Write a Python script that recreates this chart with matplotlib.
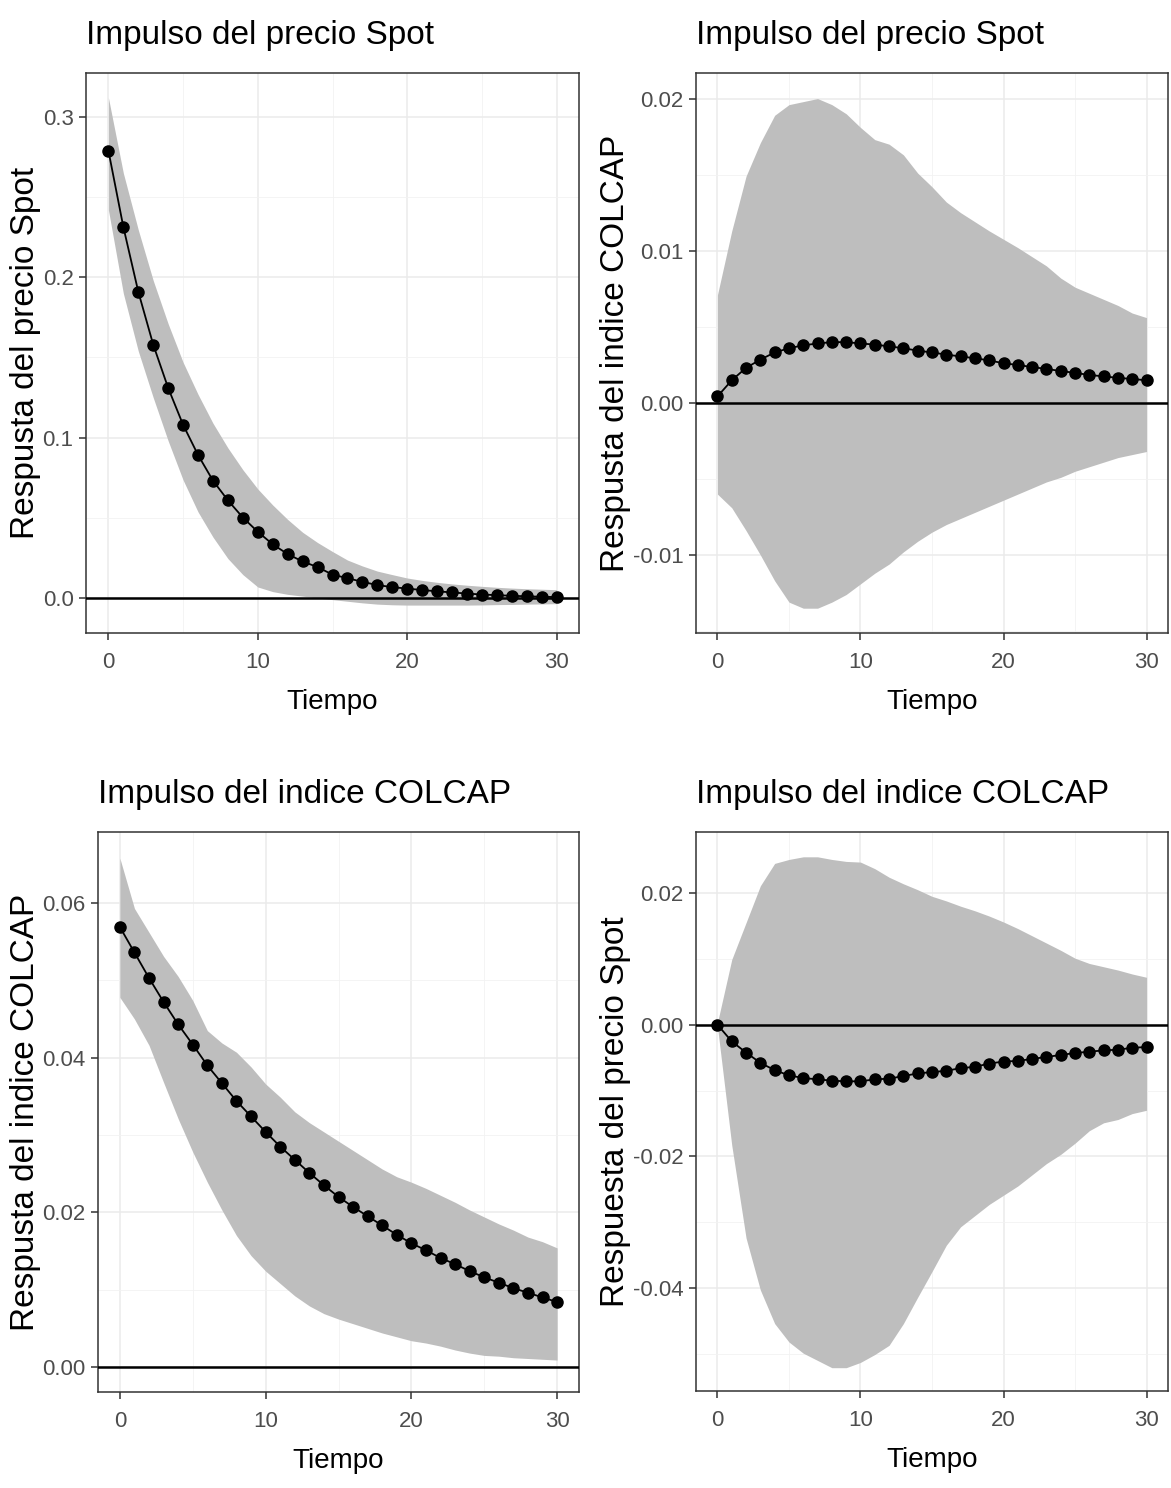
import matplotlib
matplotlib.use("Agg")
import matplotlib.pyplot as plt
from matplotlib.ticker import MultipleLocator

################################DATOS################################
tiempo = list(range(31))

# Impulso del precio Spot -> respuesta del precio Spot
spot_spot = [0.279, 0.2314, 0.191, 0.158, 0.131, 0.108, 0.0892, 0.0732, 0.0609, 0.0502,
             0.0413, 0.0335, 0.0274, 0.0228, 0.0193, 0.0146, 0.0124, 0.0101, 0.0081, 0.0068,
             0.0059, 0.0050, 0.0042, 0.0035, 0.0028, 0.0022, 0.0018, 0.0014, 0.0011, 0.0008, 0.0006]
spot_spot_sup = [0.312, 0.265, 0.2296, 0.198, 0.171, 0.147, 0.127, 0.109, 0.0936, 0.080,
                 0.068, 0.058, 0.049, 0.041, 0.0346, 0.029, 0.0237, 0.020, 0.0168, 0.0146,
                 0.0125, 0.011, 0.0098, 0.0088, 0.008, 0.0073, 0.0067, 0.0062, 0.0058, 0.0055, 0.0052]
spot_spot_inf = [0.242, 0.19, 0.154, 0.125, 0.098, 0.0736, 0.0537, 0.038, 0.0246, 0.0146,
                 0.0069, 0.004, 0.0023, 0.0012, 0.0, -0.001, -0.002, -0.003, -0.0038, -0.0042,
                 -0.0044, -0.0044, -0.0044, -0.0044, -0.0044, -0.0043, -0.0041, -0.004, -0.0038, -0.0037, -0.0035]

# Impulso del precio Spot -> respuesta del indice COLCAP
spot_colcap = [0.00042, 0.00148, 0.0023, 0.00284, 0.00331, 0.00359, 0.00378, 0.0039, 0.00399, 0.00399,
               0.0039, 0.00383, 0.00371, 0.00359, 0.00343, 0.00331, 0.00317, 0.00305, 0.00293, 0.00279,
               0.0026, 0.00249, 0.00235, 0.00223, 0.00209, 0.00197, 0.00183, 0.00174, 0.00164, 0.00157, 0.00148]
spot_colcap_sup = [0.0071, 0.0113, 0.0149, 0.0171, 0.0189, 0.0196, 0.0198, 0.0200, 0.0196, 0.019,
                   0.0181, 0.0173, 0.017, 0.0163, 0.0151, 0.0142, 0.0132, 0.0125, 0.0119, 0.0113,
                   0.01075, 0.0102, 0.0096, 0.009, 0.0082, 0.0076, 0.0072, 0.0068, 0.0064, 0.0059, 0.0056]
spot_colcap_inf = [-0.006, -0.0069, -0.0084, -0.010, -0.0117, -0.0131, -0.0135, -0.0135, -0.0131, -0.0126,
                   -0.0119, -0.0112, -0.0106, -0.0098, -0.0091, -0.0085, -0.008, -0.0076, -0.0072, -0.0068,
                   -0.0064, -0.006, -0.0056, -0.0052, -0.0049, -0.0045, -0.0042, -0.0039, -0.0036, -0.0034, -0.0032]

# Impulso del indice COLCAP -> respuesta del indice COLCAP
colcap_colcap = [0.0569, 0.0536, 0.0503, 0.0472, 0.0443, 0.0417, 0.039, 0.0367, 0.0344, 0.0324,
                 0.0304, 0.0285, 0.0268, 0.0251, 0.0235, 0.022, 0.0207, 0.0195, 0.0183, 0.0171,
                 0.016, 0.0151, 0.0141, 0.0133, 0.0124, 0.0116, 0.0109, 0.0102, 0.0096, 0.009, 0.0084]
colcap_colcap_sup = [0.0658, 0.0593, 0.0562, 0.0531, 0.0505, 0.0474, 0.0435, 0.0419, 0.0407, 0.0388,
                     0.0366, 0.0349, 0.033, 0.0316, 0.0304, 0.0292, 0.028, 0.0268, 0.0256, 0.0246,
                     0.0239, 0.0231, 0.0222, 0.0213, 0.0203, 0.0194, 0.0185, 0.0177, 0.0168, 0.0162, 0.0154]
colcap_colcap_inf = [0.0478, 0.045, 0.0416, 0.0368, 0.0321, 0.0278, 0.0239, 0.0203, 0.017, 0.0144,
                     0.0124, 0.0108, 0.0092, 0.0079, 0.0069, 0.0062, 0.0056, 0.005, 0.0044, 0.0039,
                     0.0034, 0.0031, 0.0027, 0.0022, 0.0018, 0.0015, 0.0014, 0.0012, 0.0011, 0.001, 0.0009]

# Impulso del indice COLCAP -> respuesta del precio Spot
colcap_spot = [0.0, -0.00254, -0.00423, -0.0058, -0.0069, -0.0077, -0.0081, -0.0083, -0.0085, -0.0086,
               -0.0086, -0.0083, -0.0082, -0.0078, -0.0074, -0.0072, -0.007, -0.0066, -0.0064, -0.0059,
               -0.0056, -0.0055, -0.0052, -0.0049, -0.0046, -0.0043, -0.0041, -0.0039, -0.0038, -0.0035, -0.0034]
colcap_spot_sup = [0.0003, 0.0099, 0.0155, 0.0211, 0.0245, 0.0251, 0.0255, 0.0255, 0.0251, 0.0248,
                   0.0247, 0.0237, 0.0224, 0.0214, 0.0205, 0.0195, 0.0188, 0.018, 0.0173, 0.0165,
                   0.0156, 0.0146, 0.0135, 0.0124, 0.0113, 0.0101, 0.0093, 0.0088, 0.0083, 0.0077, 0.0072]
colcap_spot_inf = [-0.0003, -0.0183, -0.0324, -0.0403, -0.0454, -0.0482, -0.0499, -0.051, -0.0521, -0.0521,
                   -0.0513, -0.0501, -0.0487, -0.0454, -0.0414, -0.0375, -0.0335, -0.0307, -0.029, -0.0273,
                   -0.0259, -0.0245, -0.0228, -0.0211, -0.0197, -0.018, -0.0161, -0.0149, -0.0144, -0.0135, -0.013]

plt.rcParams['font.family'] = ['Liberation Sans', 'DejaVu Sans']

W, H = 1171, 1488

################################FUNCION GRAFICA################################
def graficar(caja, x, y, inf, sup, titulo, ylabel, ylim, paso, ylab_px):
    izq, arr, der, aba = caja
    ax = fig.add_axes([izq / W, 1 - aba / H, (der - izq) / W, (aba - arr) / H])
    ax.set_facecolor('white')
    ax.fill_between(x, inf, sup, color='#BEBEBE', linewidth=0, zorder=2)
    ax.axhline(0, color='black', linewidth=1.8, zorder=3)
    ax.plot(x, y, color='black', linewidth=1.3, marker='o', markersize=8, zorder=4)
    ax.set_xlim(-1.5, 31.5)
    ax.set_ylim(*ylim)
    ax.xaxis.set_major_locator(MultipleLocator(10))
    ax.xaxis.set_minor_locator(MultipleLocator(5))
    ax.yaxis.set_major_locator(MultipleLocator(paso))
    ax.yaxis.set_minor_locator(MultipleLocator(paso / 2))
    ax.grid(which='major', color='#EBEBEB', linewidth=1.1, zorder=0)
    ax.grid(which='minor', color='#F2F2F2', linewidth=0.6, zorder=0)
    ax.set_axisbelow(True)
    for s in ax.spines.values():
        s.set_color('#333333')
        s.set_linewidth(1.1)
    ax.tick_params(which='major', length=5, width=1.1, color='#333333',
                   labelcolor='#4D4D4D', labelsize=16)
    ax.tick_params(axis='x', which='major', pad=8.5)
    ax.tick_params(axis='y', which='major', pad=4)
    ax.tick_params(which='minor', length=0)
    if paso < 0.1:
        ax.yaxis.set_major_formatter(lambda v, p: '%.2f' % v)
    else:
        ax.yaxis.set_major_formatter(lambda v, p: '%.1f' % v)
    ax.xaxis.set_major_formatter(lambda v, p: '%d' % v)
    ax.set_title(titulo, loc='left', fontsize=24, pad=21)
    ax.set_xlabel('Tiempo', fontsize=20)
    ax.xaxis.set_label_coords(0.5, -(56 / (aba - arr)))
    ax.set_ylabel(ylabel, fontsize=24)
    ax.yaxis.set_label_coords(-(izq - ylab_px) / (der - izq), 0.5)
    return ax

fig = plt.figure(figsize=(W / 100, H / 100), dpi=100)

graficar((86, 73, 579, 633), tiempo, spot_spot, spot_spot_inf, spot_spot_sup,
         'Impulso del precio Spot', 'Respusta del precio Spot', (-0.0218, 0.3274), 0.1, 41)
graficar((696, 73, 1168, 633), tiempo, spot_colcap, spot_colcap_inf, spot_colcap_sup,
         'Impulso del precio Spot', 'Respusta del indice COLCAP', (-0.01513, 0.02168), 0.01, 631)
graficar((98, 832, 579, 1392), tiempo, colcap_colcap, colcap_colcap_inf, colcap_colcap_sup,
         'Impulso del indice COLCAP', 'Respusta del indice COLCAP', (-0.00323, 0.06918), 0.02, 41)
graficar((696, 832, 1168, 1391), tiempo, colcap_spot, colcap_spot_inf, colcap_spot_sup,
         'Impulso del indice COLCAP', 'Respuesta del precio Spot', (-0.05564, 0.02927), 0.02, 631)

fig.savefig('out.png', dpi=100, facecolor='white')
